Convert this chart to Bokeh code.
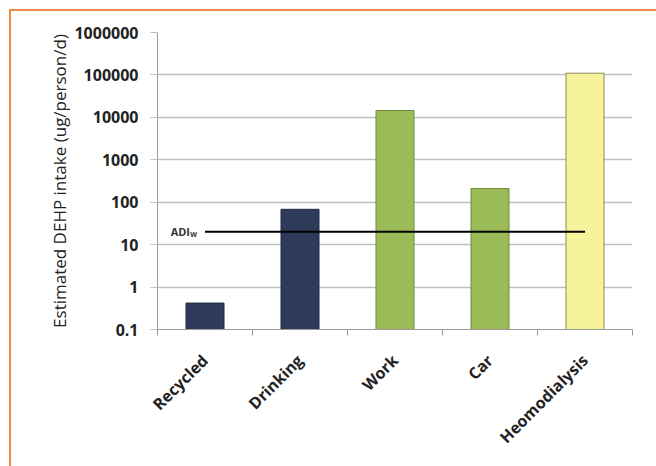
from bokeh.plotting import figure
from bokeh.models import FixedTicker, ColumnDataSource, InlineStyleSheet
from bokeh.core.properties import value
from bokeh.embed import file_html
from bokeh.resources import INLINE
import math

categories = ["Recycled", "Drinking", "Work", "Car", "Heomodialysis"]
intake = [0.42, 68, 14500, 210, 110000]
bar_colors = ["#2E3A59", "#2E3A59", "#9BBB59", "#9BBB59", "#F6F39C"]
bar_lines = ["#1F2940", "#1F2940", "#6E8A3C", "#6E8A3C", "#8C8A5A"]
adi_value = 20
y_ticks = [0.1, 1, 10, 100, 1000, 10000, 100000, 1000000]
y_tick_labels = ["0.1", "1", "10", "100", "1000", "10000", "100000", "1000000"]

centers = [i + 0.5 for i in range(len(categories))]

frame_css = InlineStyleSheet(css="""
:host { position: relative; }
:host::after {
  content: ''; position: absolute; left: 9px; top: 9px; right: 0; bottom: 0;
  border-left: 2px solid #F08A4B; border-top: 2px solid #F08A4B;
  pointer-events: none; z-index: 10;
}
""")

p = figure(width=656, height=466, output_backend="svg", toolbar_location=None,
           y_axis_type="log", x_range=(0, len(categories)), y_range=(0.1, 1000000),
           min_border_left=157, min_border_right=24, min_border_top=32, min_border_bottom=137,
           stylesheets=[frame_css])
p.outline_line_color = None
p.background_fill_color = "white"
p.border_fill_color = "white"

src = ColumnDataSource(dict(x=centers, top=intake, fill=bar_colors, line=bar_lines,
                            bottom=[0.1] * len(categories)))
p.vbar(x="x", top="top", bottom="bottom", width=0.4, fill_color="fill", line_color="line",
       line_width=1, source=src)

# ADI line
p.line(x=[centers[0], centers[-1]], y=[adi_value, adi_value], line_color="black", line_width=2)
p.text(x=[centers[0]], y=[adi_value], text=["ADI"], text_align="right", text_baseline="middle",
       x_offset=-15, text_font=value("Open Sans"), text_font_style="bold", text_font_size="11px",
       text_color="#333333")
p.text(x=[centers[0]], y=[adi_value], text=["W"], text_align="right", text_baseline="middle",
       x_offset=-8, y_offset=3, text_font=value("Open Sans"), text_font_style="bold",
       text_font_size="7px", text_color="#333333")

# x axis
p.xaxis.ticker = FixedTicker(ticks=centers, minor_ticks=list(range(len(categories) + 1)))
p.xaxis.major_label_overrides = {c: lab for c, lab in zip(centers, categories)}
p.xaxis.major_label_orientation = math.pi / 4
p.xaxis.major_tick_line_color = None
p.xaxis.minor_tick_line_color = "#9A9A9A"
p.xaxis.minor_tick_out = 6
p.xaxis.minor_tick_in = 0
p.xaxis.axis_line_color = "#9A9A9A"
p.xaxis.major_label_text_font = "Open Sans"
p.xaxis.major_label_text_font_style = "bold"
p.xaxis.major_label_text_font_size = "16px"
p.xaxis.major_label_text_color = "#222222"
p.xaxis.major_label_standoff = 22
p.xgrid.grid_line_color = None

# y axis
p.yaxis.ticker = FixedTicker(ticks=y_ticks, minor_ticks=[])
p.yaxis.major_label_overrides = {t: lab for t, lab in zip(y_ticks, y_tick_labels)}
p.yaxis.axis_line_color = "#9A9A9A"
p.yaxis.major_tick_line_color = "#BFBFBF"
p.yaxis.major_tick_out = 7
p.yaxis.major_tick_in = 0
p.yaxis.minor_tick_line_color = None
p.yaxis.major_label_text_font = "Open Sans"
p.yaxis.major_label_text_font_style = "bold"
p.yaxis.major_label_text_font_size = "16px"
p.yaxis.major_label_text_color = "#222222"
p.yaxis.major_label_standoff = 12
p.yaxis.axis_label = "Estimated DEHP intake (ug/person/d)"
p.yaxis.axis_label_text_font = "Open Sans"
p.yaxis.axis_label_text_font_style = "normal"
p.yaxis.axis_label_text_font_size = "17px"
p.yaxis.axis_label_text_color = "#222222"
p.yaxis.axis_label_standoff = 0
p.ygrid.grid_line_color = "#BFBFBF"
p.ygrid.grid_line_width = 1.5

open("out.html", "w").write(file_html(p, INLINE))
